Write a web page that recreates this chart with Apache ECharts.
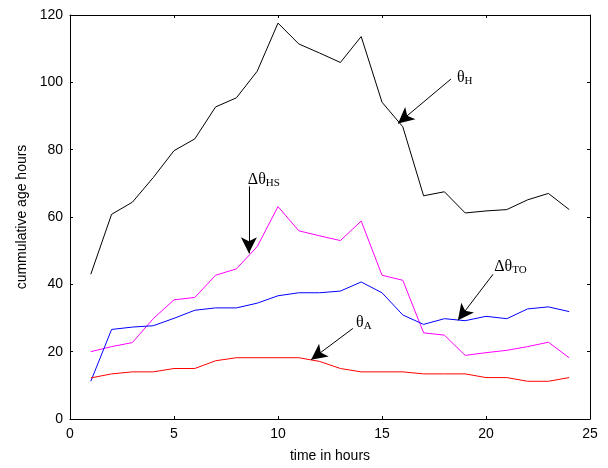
<!DOCTYPE html>
<html><head><meta charset="utf-8">
<script src="https://cdn.jsdelivr.net/npm/echarts@6/dist/echarts.min.js"></script>
<style>html,body{margin:0;padding:0;background:#fff}#c{width:608px;height:468px}</style>
</head><body><div id="c"></div>
<script>
var hours = [1,2,3,4,5,6,7,8,9,10,11,12,13,14,15,16,17,18,19,20,21,22,23,24];
var thetaH = [43,60.8,64.4,71.7,79.7,83.2,92.7,95.4,103.3,117.6,111.4,108.7,105.9,113.6,94.1,86.8,66.3,67.5,61.2,61.8,62.2,65.1,67.0,62.2];
var dThetaHS = [20.0,21.5,22.7,29.8,35.4,36.1,42.7,44.6,51.2,63.1,55.9,54.4,53.0,58.8,42.7,41.2,25.6,24.9,18.9,19.7,20.4,21.5,22.8,18.2];
var dThetaTO = [11.2,26.6,27.3,27.7,29.9,32.3,33.0,33.0,34.4,36.6,37.5,37.5,38.0,40.7,37.5,30.9,28.1,29.8,29.2,30.5,29.8,32.7,33.3,31.9];
var thetaA = [12.2,13.4,14.0,14.0,15.0,15.0,17.3,18.2,18.2,18.2,18.2,17.1,15.0,14.0,14.0,14.0,13.4,13.4,13.4,12.3,12.3,11.2,11.2,12.3];
var xTicks = [0,5,10,15,20,25];
var yTicks = [0,20,40,60,80,100,120];
// annotations
var annMain = ['θ','Δθ','Δθ','θ'];
var annSub = ['H','HS','TO','A'];
var annTail = [[18.32,101],[8.6,69.1],[20.34,43.0],[13.6,26.9]];
var annTip = [[15.77,87.8],[8.6,49.2],[18.65,29.3],[11.59,17.6]];
var annLabel = [[18.6,101.3],[8.55,71.1],[20.4,45.2],[13.75,28.7]];

function pairs(ys){ return hours.map(function(h,i){return [h, ys[i]];}); }

var axisCommon = {
  min:0, axisLine:{show:true,onZero:false,lineStyle:{color:'#000',width:1}},
  axisTick:{show:true,inside:true,length:3,lineStyle:{color:'#000'}},
  splitLine:{show:false}
};
var chart = echarts.init(document.getElementById('c'));
var option = {
  animation:false,
  grid:{left:70,right:18,top:15,bottom:43},
  xAxis:[
    Object.assign({type:'value',max:25,interval:5,position:'bottom',name:'time in hours',nameLocation:'middle',nameGap:30,
      nameTextStyle:{fontFamily:'Liberation Sans',fontSize:14,color:'#000'},
      axisLabel:{fontFamily:'Liberation Sans',fontSize:14,color:'#000',margin:8,
        formatter:function(v){return xTicks.indexOf(v)>=0?String(v):'';}}}, axisCommon),
    Object.assign({type:'value',max:25,interval:5,position:'top',axisLabel:{show:false}}, axisCommon)
  ],
  yAxis:[
    Object.assign({type:'value',max:120,interval:20,position:'left',name:'cummulative age hours',nameLocation:'middle',nameGap:41,
      nameTextStyle:{fontFamily:'Liberation Sans',fontSize:14,color:'#000'},
      axisLabel:{fontFamily:'Liberation Sans',fontSize:14,color:'#000',margin:7,
        formatter:function(v){return yTicks.indexOf(v)>=0?String(v):'';}}}, axisCommon),
    Object.assign({type:'value',max:120,interval:20,position:'right',axisLabel:{show:false}}, axisCommon)
  ],
  series:[
    {type:'line',name:'thetaH',data:pairs(thetaH),showSymbol:false,lineStyle:{color:'#000',width:1},itemStyle:{color:'#000'}},
    {type:'line',name:'dThetaHS',data:pairs(dThetaHS),showSymbol:false,lineStyle:{color:'#ff00ff',width:1},itemStyle:{color:'#ff00ff'}},
    {type:'line',name:'dThetaTO',data:pairs(dThetaTO),showSymbol:false,lineStyle:{color:'#0000ff',width:1},itemStyle:{color:'#0000ff'}},
    {type:'line',name:'thetaA',data:pairs(thetaA),showSymbol:false,lineStyle:{color:'#ff0000',width:1},itemStyle:{color:'#ff0000'}},
    {type:'line',name:'annotations',data:[],silent:true,
      markLine:{silent:true,symbol:['none','arrow'],symbolSize:[12,16],animation:false,
        lineStyle:{color:'#000',width:1,type:'solid'},label:{show:false},
        data:annTail.map(function(t,i){return [{coord:t},{coord:annTip[i]}];})},
      markPoint:{silent:true,symbol:'rect',symbolSize:0,animation:false,
        label:{show:true,position:'right',distance:0,
          rich:{m:{fontFamily:'Liberation Serif',fontSize:16,color:'#000',lineHeight:18},
                s:{fontFamily:'Liberation Serif',fontSize:11,color:'#000',verticalAlign:'bottom',lineHeight:14,padding:[4,0,0,0]}}},
        data:annLabel.map(function(p,i){return {coord:p,value:0,label:{formatter:'{m|'+annMain[i]+'}{s|'+annSub[i]+'}'}};})}
    }
  ]
};
chart.setOption(option);
</script></body></html>
